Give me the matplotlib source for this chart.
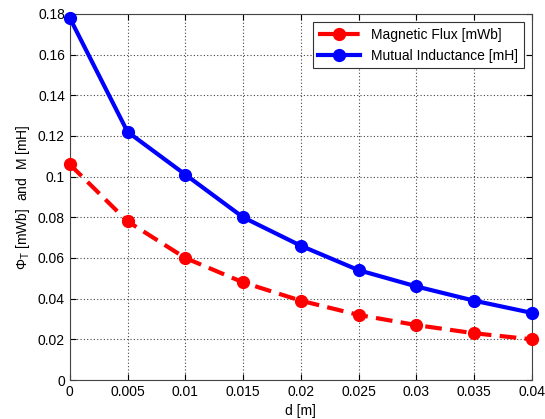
import matplotlib.pyplot as plt
import numpy as np

plt.rcParams['font.family'] = ['Liberation Sans', 'DejaVu Sans']
plt.rcParams['mathtext.fontset'] = 'custom'
plt.rcParams['mathtext.rm'] = 'Liberation Sans'
plt.rcParams['mathtext.it'] = 'Liberation Sans'

d = [0, 0.005, 0.01, 0.015, 0.02, 0.025, 0.03, 0.035, 0.04]
flux = [0.106, 0.078, 0.060, 0.048, 0.039, 0.032, 0.027, 0.023, 0.020]
inductance = [0.178, 0.122, 0.101, 0.080, 0.066, 0.054, 0.046, 0.039, 0.033]

fig = plt.figure(figsize=(5.45, 4.19), dpi=100)
ax = fig.add_axes([0.128, 0.093, 0.848, 0.874])

ax.plot(d, flux, '--o', color='red', lw=3, ms=8.5, dashes=(4, 2),
        label='Magnetic Flux [mWb]', clip_on=False, zorder=3)
ax.plot(d, inductance, '-o', color='blue', lw=3, ms=8.5,
        label='Mutual Inductance [mH]', clip_on=False, zorder=3)

ax.set_xlim(0, 0.04)
ax.set_ylim(0, 0.18)
ax.set_xticks(np.arange(0, 0.0401, 0.005))
ax.set_xticklabels(['0', '0.005', '0.01', '0.015', '0.02', '0.025', '0.03', '0.035', '0.04'])
ax.set_yticks(np.arange(0, 0.181, 0.02))
ax.set_yticklabels(['0', '0.02', '0.04', '0.06', '0.08', '0.1', '0.12', '0.14', '0.16', '0.18'])
ax.tick_params(direction='in', labelsize=10, length=4, top=True, right=True)
ax.grid(True, linestyle=(0, (1, 2)), color='#444444', linewidth=0.8)
for s in ax.spines.values():
    s.set_color('#444444')

ax.set_xlabel('d [m]', fontsize=10)
ax.set_ylabel(r'$\Phi_T$ [mWb]  and  M [mH]', fontsize=10)

leg = ax.legend(loc='upper right', fontsize=10, fancybox=False, framealpha=1,
                edgecolor='#333333', borderaxespad=0.6, handlelength=3)
leg.get_frame().set_linewidth(0.8)

fig.savefig('out.png', dpi=100)
